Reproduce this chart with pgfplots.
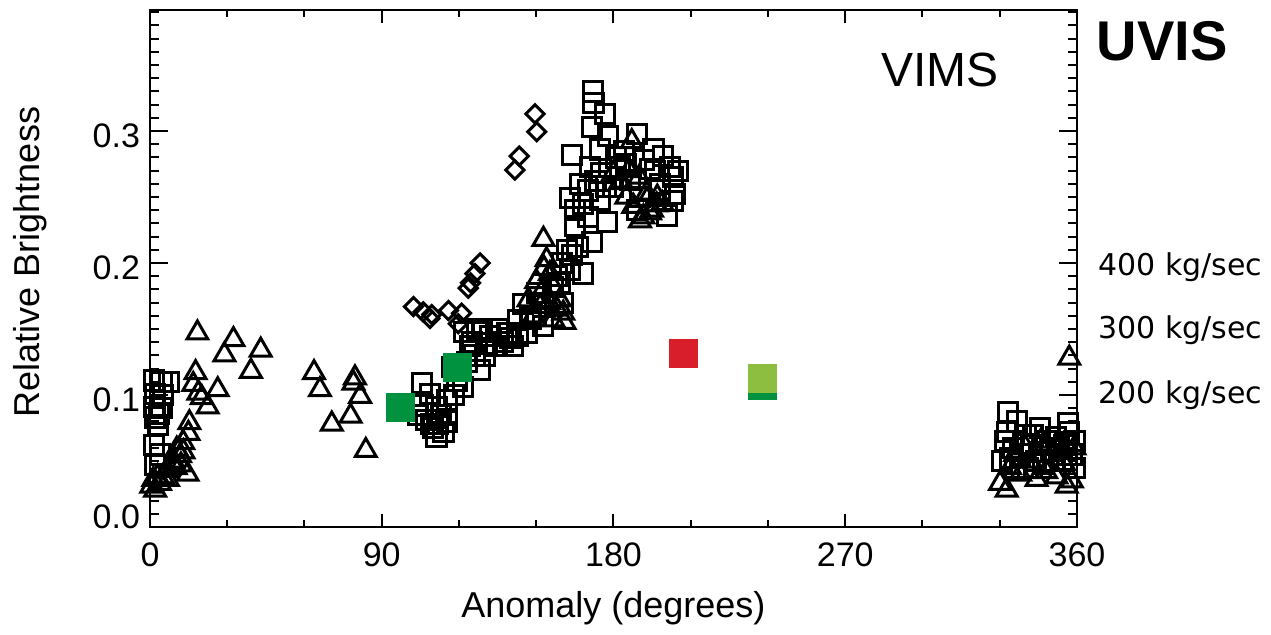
\documentclass[border=0pt]{standalone}
\usepackage{fontspec}
\setmainfont{Liberation Sans}
\newfontfamily\dejavu{DejaVu Sans}
\usepackage{pgfplots}
\pgfplotsset{compat=1.18}
\definecolor{ugreen}{HTML}{00923F}
\definecolor{ured}{HTML}{D91E2B}
\definecolor{ulgreen}{HTML}{8DBE3F}
\pgfplotsset{common/.style={
  width=463.5pt, height=258.5pt, scale only axis,
  xmin=0, xmax=360, ymin=0, ymax=0.3917,
  axis line style={line width=1.1pt},
  every tick/.style={black, line width=1pt},
  /pgf/number format/assume math mode=true,
  tick align=inside,
}}
\begin{document}
\begin{tikzpicture}
\useasboundingbox (-75pt,-53.5pt) rectangle (560.5pt,263.5pt);
% y axis ticks and labels
\begin{axis}[common,
  xtick=\empty,
  ytick={0,0.1,0.2,0.3}, yticklabels={{},0.1,0.2,0.3},
  minor ytick={0.01,0.02,...,0.39},
  major tick length=9pt, minor tick length=4.5pt,
  yticklabel style={font=\fontsize{17}{17}\selectfont, xshift=-1.5pt, yshift=-2.5pt},
  extra y ticks={0}, extra y tick labels={0.0},
  extra y tick style={yticklabel style={yshift=7.5pt}},
  ylabel={Relative Brightness},
  ylabel style={at={(axis description cs:-0.1294,0.5126)}, anchor=center, font=\fontsize{18}{18}\selectfont},
]
\end{axis}
% x axis ticks and data
\begin{axis}[common,
  ytick=\empty,
  xtick={0,90,180,270,360},
  minor xtick={30,60,120,150,210,240,300,330},
  major tick length=6.3pt, minor tick length=3.5pt,
  xticklabel style={font=\fontsize{17}{17}\selectfont, yshift=-4.5pt},
  xlabel={Anomaly (degrees)},
  xlabel style={at={(axis description cs:0.5,-0.1567)}, anchor=center, font=\fontsize{18}{18}\selectfont},
]
% open squares
\addplot[only marks, mark=square, mark size=4.8pt, mark options={draw=black, line width=1.5pt}] coordinates {
(1.5,0.111)(4.5,0.110)(7.5,0.110)(2,0.101)(1.5,0.091)(4.5,0.090)(2,0.083)(3,0.077)(1.5,0.062)(4,0.055)(2,0.047)(5,0.100)(3.5,0.086)
(105.5,0.109)(111.3,0.068)(107.4,0.081)(115.2,0.080)(106.1,0.092)(111.3,0.091)(115.2,0.096)(117.2,0.121)(121.7,0.106)(128.2,0.119)(124.3,0.137)(128.8,0.148)(130.7,0.139)(134.6,0.137)(138.5,0.147)(143.0,0.157)(141.1,0.137)(146.3,0.147)(152.7,0.152)(145.0,0.169)(150.2,0.177)(156.6,0.182)(119.1,0.111)(108.7,0.101)(110,0.075)(113,0.085)(122,0.148)(125,0.140)(127,0.150)(132,0.145)(135,0.150)(140,0.143)(148,0.158)(153,0.170)(158,0.19)(160,0.2)(162,0.21)(118,0.1)(123,0.125)(126,0.13)(109,0.078)(104,0.085)(112,0.078)(114,0.072)(120,0.118)(130,0.130)(137,0.140)(143,0.145)(150,0.160)
(171.9,0.330)(172.2,0.321)(176.7,0.313)(171.5,0.303)(178.0,0.296)(163.8,0.282)(174.8,0.286)(189.0,0.298)(199.3,0.281)(201.9,0.273)(203.2,0.265)(195.5,0.286)(170.9,0.273)(182.5,0.273)(163.1,0.249)(168.3,0.245)(174.8,0.248)(177.4,0.231)(203.2,0.247)(200.7,0.236)(189.0,0.240)(171.5,0.216)(165.0,0.228)(163.8,0.206)(168.3,0.192)(163.1,0.195)(159.2,0.185)(160.5,0.170)(151.5,0.170)(147.6,0.159)(194.2,0.271)(186.4,0.263)(198.1,0.260)(190.3,0.250)(179.9,0.258)(167.0,0.260)(165,0.24)(170,0.255)(175,0.268)(181,0.28)(184,0.285)(192,0.278)(198,0.255)(205,0.27)(204,0.252)(173,0.262)(177,0.258)(185,0.275)(196,0.27)(166,0.212)(170,0.235)
(333.3,0.087)(336.6,0.080)(345.6,0.075)(340,0.07)(332,0.065)(335,0.06)(338,0.055)(342,0.062)(348,0.065)(350,0.058)(352,0.068)(355,0.062)(357,0.072)(358,0.055)(359,0.065)(344,0.05)(347,0.048)(354,0.05)(331,0.05)(336,0.045)(356.5,0.079)(341,0.045)(359,0.045)(333,0.072)(339,0.063)(343,0.070)(346,0.057)(351,0.050)(353,0.060)(356,0.055)(334,0.052)
};
% open triangles
\addplot[only marks, mark=triangle, mark size=6pt, mark options={draw=black, line width=1.5pt}] coordinates {
(18.4,0.147)(32.4,0.142)(28.9,0.1305)(43.0,0.134)(39.2,0.118)(17.7,0.117)(26.3,0.104)(16.8,0.108)(18.8,0.1015)(20.1,0.098)(22.4,0.091)(15.3,0.079)(14.9,0.071)(12.9,0.064)(10.4,0.059)(11.7,0.054)(8.4,0.049)(14.6,0.040)(6.5,0.043)(1.3,0.036)(3.9,0.033)(0.5,0.031)(2,0.028)(3,0.038)(5,0.038)(7,0.036)(9,0.05)(10,0.045)(12,0.047)(13,0.057)
(63.7,0.117)(66.0,0.104)(70.6,0.078)(79.6,0.113)(79.0,0.109)(81.6,0.099)(77.9,0.084)(83.8,0.058)
(152.8,0.218)(154.0,0.2025)(155.3,0.192)(156.6,0.182)(152.7,0.180)(159.2,0.172)(160.5,0.162)(151.5,0.167)(156.6,0.157)(147,0.172)(150,0.186)(153,0.196)(155,0.17)(158,0.165)(161,0.155)(149,0.16)
(187.1,0.292)(191.6,0.235)(187.7,0.243)(194.2,0.238)(182.5,0.261)(192.9,0.253)(179.9,0.268)(196.8,0.244)(190.3,0.232)(185,0.25)(193,0.248)(195,0.24)(197,0.25)(199,0.245)(183,0.262)(186,0.27)(190,0.265)
(332.7,0.028)(344.3,0.036)(356,0.031)(330.1,0.033)(334,0.045)(338,0.04)(342,0.05)(348,0.042)(352,0.038)(358,0.035)(357,0.128)(350,0.055)(355,0.048)(340,0.06)(346,0.065)(359,0.06)(336,0.055)
};
% open diamonds
\addplot[only marks, mark=square, mark size=3.2pt, mark options={draw=black, line width=1.5pt, rotate=45}] coordinates {
(149.5,0.313)(150.2,0.2995)(143.4,0.281)(141.7,0.2705)(128.2,0.200)(126.2,0.192)(124.5,0.185)(123.6,0.181)(102.3,0.167)(106.1,0.163)(109.4,0.161)(115.9,0.164)(121.0,0.162)(119.7,0.154)(108.7,0.158)
};
% UVIS coloured squares
\addplot[only marks, mark=square*, mark size=7pt, mark options={fill=ugreen, draw=ugreen, line width=0pt}] coordinates {(97.4,0.0905) (119.4,0.1205) (237.9,0.1070)};
\addplot[only marks, mark=square*, mark size=7pt, mark options={fill=ured, draw=ured, line width=0pt}] coordinates {(207.2,0.1314)};
\addplot[only marks, mark=square*, mark size=7pt, mark options={fill=ulgreen, draw=ulgreen, line width=0pt}] coordinates {(237.9,0.1123)};
\end{axis}
\node[font=\fontsize{24}{24}\selectfont, inner sep=0pt] at (395pt,228.5pt) {VIMS};
\node[font=\bfseries\fontsize{28}{28}\selectfont, inner sep=0pt] at (506pt,243pt) {UVIS};
\node[font=\dejavu\fontsize{15}{15}\selectfont, inner sep=0pt, anchor=base west] at (474pt,126pt) {400 kg/sec};
\node[font=\dejavu\fontsize{15}{15}\selectfont, inner sep=0pt, anchor=base west] at (474pt,94.3pt) {300 kg/sec};
\node[font=\dejavu\fontsize{15}{15}\selectfont, inner sep=0pt, anchor=base west] at (474pt,61.8pt) {200 kg/sec};
\end{tikzpicture}
\end{document}
